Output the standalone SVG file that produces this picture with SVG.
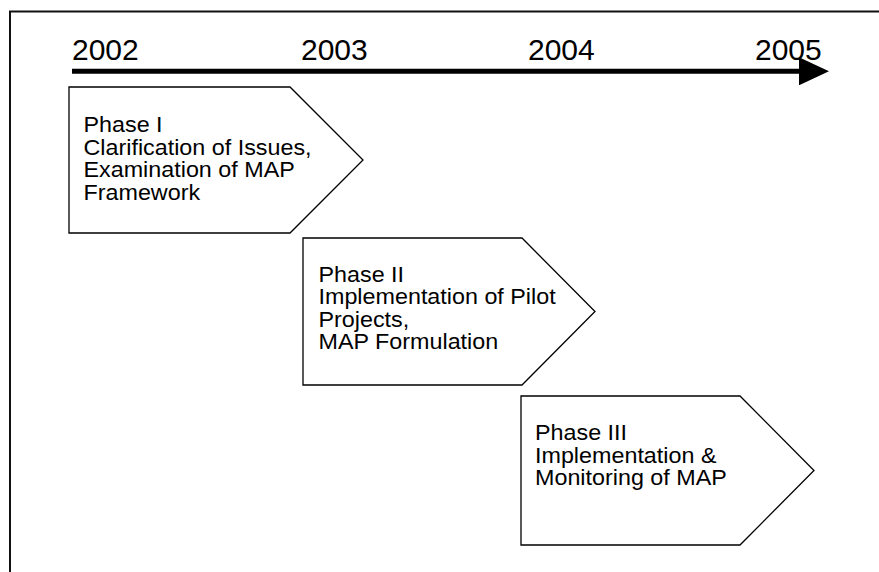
<svg xmlns="http://www.w3.org/2000/svg" width="879" height="572" viewBox="0 0 879 572">
  <style>
    .frame { fill: none; stroke: #111; stroke-width: 2; }
    .phase { fill: #fff; stroke: #000; stroke-width: 1.3; stroke-linejoin: miter; }
    .year { font-family: "Liberation Sans", Arial, sans-serif; font-size: 30px; fill: #000; }
    .label { font-family: "Liberation Sans", Arial, sans-serif; font-size: 21.4px; fill: #000; }
  </style>
  <defs>
    <marker id="arrowhead" markerUnits="userSpaceOnUse" markerWidth="30" markerHeight="28" refX="0" refY="14" orient="auto">
      <path d="M0,0 L30,14 L0,28 Z" fill="#000"/>
    </marker>
  </defs>
  <rect width="879" height="572" fill="#fff"/>

  <!-- page frame: top and left edges only -->
  <path class="frame" d="M10,572 V11.5 H879"/>

  <!-- year labels -->
  <g id="years">
    <text class="year" x="72" y="60">2002</text>
    <text class="year" x="301" y="60">2003</text>
    <text class="year" x="528" y="60">2004</text>
    <text class="year" x="755" y="60">2005</text>
  </g>

  <!-- timeline axis -->
  <g id="connectors">
    <line x1="72" y1="71.3" x2="799" y2="71.3" stroke="#000" stroke-width="5" marker-end="url(#arrowhead)"/>
  </g>

  <!-- phase chevrons -->
  <g id="phase1">
    <path class="phase" d="M69,87 H290 L363,160 L290,233 H69 Z"/>
    <g class="label" transform="translate(83.5,0) scale(1.09,1)">
      <text x="0" y="132.5">Phase I</text>
      <text x="0" y="155">Clarification of Issues,</text>
      <text x="0" y="177.5">Examination of MAP</text>
      <text x="0" y="200">Framework</text>
    </g>
  </g>

  <g id="phase2">
    <path class="phase" d="M303,238 H522 L595,311.5 L522,385 H303 Z"/>
    <g class="label" transform="translate(318.5,0) scale(1.09,1)">
      <text x="0" y="282">Phase II</text>
      <text x="0" y="304.5">Implementation of Pilot</text>
      <text x="0" y="327">Projects,</text>
      <text x="0" y="349.5">MAP Formulation</text>
    </g>
  </g>

  <g id="phase3">
    <path class="phase" d="M521,396 H740 L814,470.5 L740,545 H521 Z"/>
    <g class="label" transform="translate(535,0) scale(1.09,1)">
      <text x="0" y="440.5">Phase III</text>
      <text x="0" y="463">Implementation &amp;</text>
      <text x="0" y="485.5">Monitoring of MAP</text>
    </g>
  </g>
</svg>
